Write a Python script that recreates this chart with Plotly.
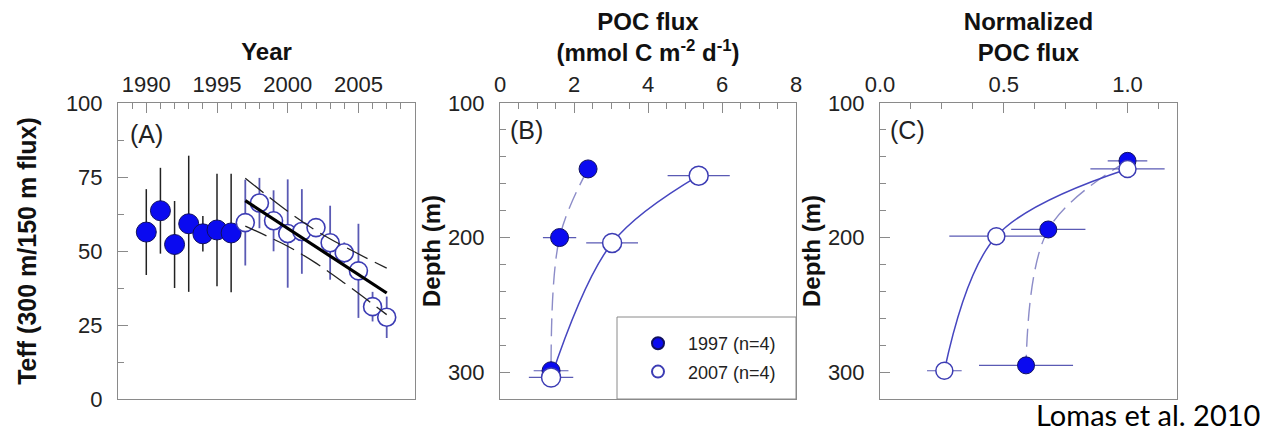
import plotly.graph_objects as go

# ---------------- Data ----------------
# Panel A: Teff time series
years_1997 = [1990, 1991, 1992, 1993, 1994, 1995, 1996]
teff_1997 = [56.4, 63.6, 52.2, 59.2, 55.8, 57.1, 56.1]
teff_1997_err = [14.5, 14.5, 14.7, 23.0, 6.0, 19.0, 20.0]

years_2007 = [1997, 1998, 1999, 2000, 2001, 2002, 2003, 2004, 2005, 2006, 2007]
teff_2007 = [59.6, 66.2, 60.2, 55.9, 56.6, 57.9, 52.8, 49.4, 43.3, 31.2, 27.6]
teff_2007_err = [14.5, 8.5, 10.3, 18.3, 14.3, 3.0, 12.5, 3.5, 15.9, 5.0, 7.0]

fit_years = [1997, 2007]
fit_teff = [67.0, 35.8]
band_years = [1997, 2000, 2002, 2004, 2007]
band_upper = [74.6, 63.4, 56.9, 51.5, 44.2]
band_lower = [58.4, 51.6, 45.9, 39.2, 28.5]

# Panel B: POC flux profiles
depth_1997_b = [149, 200, 299]
flux_1997 = [2.38, 1.61, 1.38]
flux_1997_err = [0.0, 0.45, 0.47]
depth_2007_b = [154, 204, 304]
flux_2007 = [5.37, 3.03, 1.38]
flux_2007_err = [0.84, 0.70, 0.60]

# Panel C: normalized POC flux
depth_1997_c = [143, 194, 295]
norm_1997 = [1.0, 0.68, 0.59]
norm_1997_err = [0.08, 0.15, 0.19]
depth_2007_c = [149, 199, 299]
norm_2007 = [1.0, 0.47, 0.26]
norm_2007_err = [0.15, 0.19, 0.07]

label_1997 = "1997 (n=4)"
label_2007 = "2007 (n=4)"

# ---------------- Styles ----------------
OFF = 8                      # page body margin of the html page
W, H = 1268 - OFF, 431 - OFF
FILL = "#0a0af0"
FILL_EDGE = "#101060"
OPEN = "#3c3cb4"
ERR_OPEN = "#5a5ab4"
LINE_SOLID = "#4646c0"
LINE_DASH = "#8c8cc8"
GRAY = "#8a8a8a"
FONT = "Liberation Sans, Arial, sans-serif"


def px(x):
    return (x - OFF) / W


def py(y):
    return 1 - (y - OFF) / H


y_dom = [py(399), py(103)]
doms = [[px(118), px(415)], [px(500), px(796)], [px(880), px(1177)]]

fig = go.Figure()

# ---- Panel A ----
fig.add_trace(go.Scatter(
    x=years_1997, y=teff_1997, mode="markers", xaxis="x", yaxis="y",
    marker=dict(size=20, color=FILL, line=dict(color=FILL_EDGE, width=1)),
    error_y=dict(type="data", array=teff_1997_err, color="#222222", thickness=1.5, width=0),
    showlegend=False))
fig.add_trace(go.Scatter(
    x=years_2007, y=teff_2007, mode="markers", xaxis="x", yaxis="y",
    marker=dict(size=18, color="white", line=dict(color=OPEN, width=1.6)),
    error_y=dict(type="data", array=teff_2007_err, color=ERR_OPEN, thickness=1.8, width=0),
    showlegend=False))
fig.add_trace(go.Scatter(
    x=fit_years, y=fit_teff, mode="lines", xaxis="x", yaxis="y",
    line=dict(color="black", width=3.2), showlegend=False))
for band in (band_upper, band_lower):
    fig.add_trace(go.Scatter(
        x=band_years, y=band, mode="lines", xaxis="x", yaxis="y",
        line=dict(color="#222222", width=1.3, dash="23px,8px", shape="spline"),
        showlegend=False))

# ---- Panel B ----
fig.add_trace(go.Scatter(
    x=flux_1997, y=depth_1997_b, mode="lines", xaxis="x2", yaxis="y2",
    line=dict(color=LINE_DASH, width=1.4, dash="18px,8px", shape="spline"),
    showlegend=False))
fig.add_trace(go.Scatter(
    x=flux_2007, y=depth_2007_b, mode="lines", xaxis="x2", yaxis="y2",
    line=dict(color=LINE_SOLID, width=1.5, shape="spline"), showlegend=False))
fig.add_trace(go.Scatter(
    x=flux_1997, y=depth_1997_b, mode="markers", xaxis="x2", yaxis="y2",
    name=label_1997, legendgroup="a",
    marker=dict(size=18, color=FILL, line=dict(color=FILL_EDGE, width=1)),
    error_x=dict(type="data", array=flux_1997_err, color=ERR_OPEN, thickness=1.2, width=0)))
fig.add_trace(go.Scatter(
    x=flux_2007, y=depth_2007_b, mode="markers", xaxis="x2", yaxis="y2",
    name=label_2007, legendgroup="b",
    marker=dict(size=19, color="white", line=dict(color=OPEN, width=1.5)),
    error_x=dict(type="data", array=flux_2007_err, color=ERR_OPEN, thickness=1.2, width=0)))

# ---- Panel C ----
fig.add_trace(go.Scatter(
    x=norm_1997, y=depth_1997_c, mode="lines", xaxis="x3", yaxis="y3",
    line=dict(color=LINE_DASH, width=1.4, dash="18px,8px", shape="spline"),
    showlegend=False))
fig.add_trace(go.Scatter(
    x=norm_2007, y=depth_2007_c, mode="lines", xaxis="x3", yaxis="y3",
    line=dict(color=LINE_SOLID, width=1.5, shape="spline"), showlegend=False))
fig.add_trace(go.Scatter(
    x=norm_1997, y=depth_1997_c, mode="markers", xaxis="x3", yaxis="y3",
    marker=dict(size=17, color=FILL, line=dict(color=FILL_EDGE, width=1)),
    error_x=dict(type="data", array=norm_1997_err, color=ERR_OPEN, thickness=1.2, width=0),
    showlegend=False))
fig.add_trace(go.Scatter(
    x=norm_2007, y=depth_2007_c, mode="markers", xaxis="x3", yaxis="y3",
    marker=dict(size=17, color="white", line=dict(color=OPEN, width=1.5)),
    error_x=dict(type="data", array=norm_2007_err, color=ERR_OPEN, thickness=1.2, width=0),
    showlegend=False))

tickfont = dict(family=FONT, size=22, color="#222222")
titlefont = dict(family=FONT, size=24, color="#111111")


def xax(dom, rng, dtick, minor, title, fmt=None, standoff=4):
    d = dict(domain=dom, range=rng, side="top", dtick=dtick, ticks="inside",
             ticklen=10, tickcolor=GRAY, tickwidth=1, automargin=False,
             minor=dict(dtick=minor, ticks="inside", ticklen=6, tickcolor=GRAY),
             showline=True, linecolor=GRAY, linewidth=1, mirror=True,
             showgrid=False, zeroline=False, tickfont=tickfont, ticklabelstandoff=1,
             title=dict(text=title, font=titlefont, standoff=standoff))
    if fmt:
        d["tickformat"] = fmt
    return d


def yax(anchor, rng, dtick, tick0, minor, title, standoff, tfont=titlefont):
    return dict(domain=y_dom, range=rng, anchor=anchor, dtick=dtick, tick0=tick0,
                ticks="inside", ticklen=10, tickcolor=GRAY, tickwidth=1, automargin=False,
                minor=dict(dtick=minor, tick0=tick0, ticks="inside", ticklen=6, tickcolor=GRAY),
                showline=True, linecolor=GRAY, linewidth=1, mirror=True,
                showgrid=False, zeroline=False, tickfont=tickfont, ticklabelstandoff=10,
                title=dict(text=title, font=tfont, standoff=standoff))


fig.update_layout(
    width=W, height=H, margin=dict(l=0, r=0, t=0, b=0, autoexpand=False),
    paper_bgcolor="white", plot_bgcolor="white",
    font=dict(family=FONT),
    xaxis=xax(doms[0], [1988, 2009], 5, 1, "<b>Year</b>"),
    yaxis=yax("x", [0, 100], 25, 0, 12.5, "<b>Teff (300 m/150 m flux)</b>", 22,
              dict(family=FONT, size=25, color="#111111")),
    xaxis2=xax(doms[1], [0, 8], 2, 0.5,
               "<b>POC flux<br>(mmol C m<sup>-2</sup> d<sup>-1</sup>)</b>", standoff=8),
    yaxis2=yax("x2", [320, 100], 100, 100, 20, "<b>Depth (m)</b>", 0),
    xaxis3=xax(doms[2], [0, 1.2], 0.5, 0.125, "<b>Normalized<br>POC flux</b>",
               fmt=".1f", standoff=11),
    yaxis3=yax("x3", [320, 100], 100, 100, 20, "<b>Depth (m)</b>", 0),
    legend=dict(x=px(628), y=py(325), xanchor="left", yanchor="top",
                bgcolor="rgba(0,0,0,0)", borderwidth=0,
                font=dict(family=FONT, size=18, color="#222222"),
                tracegroupgap=2, itemsizing="constant", itemwidth=50),
    shapes=[dict(type="rect", xref="paper", yref="paper",
                 x0=px(617), x1=px(796), y0=py(399), y1=py(317),
                 line=dict(color=GRAY, width=1), fillcolor="white", layer="above")],
    annotations=[
        dict(text="(A)", xref="x domain", yref="y domain", x=0.035, y=0.895,
             xanchor="left", yanchor="middle", showarrow=False,
             font=dict(family=FONT, size=25, color="#222222")),
        dict(text="(B)", xref="x2 domain", yref="y2 domain", x=0.027, y=0.91,
             xanchor="left", yanchor="middle", showarrow=False,
             font=dict(family=FONT, size=25, color="#222222")),
        dict(text="(C)", xref="x3 domain", yref="y3 domain", x=0.027, y=0.91,
             xanchor="left", yanchor="middle", showarrow=False,
             font=dict(family=FONT, size=25, color="#222222")),
        dict(text="Lomas et al. 2010", xref="paper", yref="paper",
             x=px(1262), y=py(414), xanchor="right", yanchor="middle",
             showarrow=False, font=dict(family="Lato, sans-serif", size=29, color="black")),
    ],
)

fig.write_html("out.html")
